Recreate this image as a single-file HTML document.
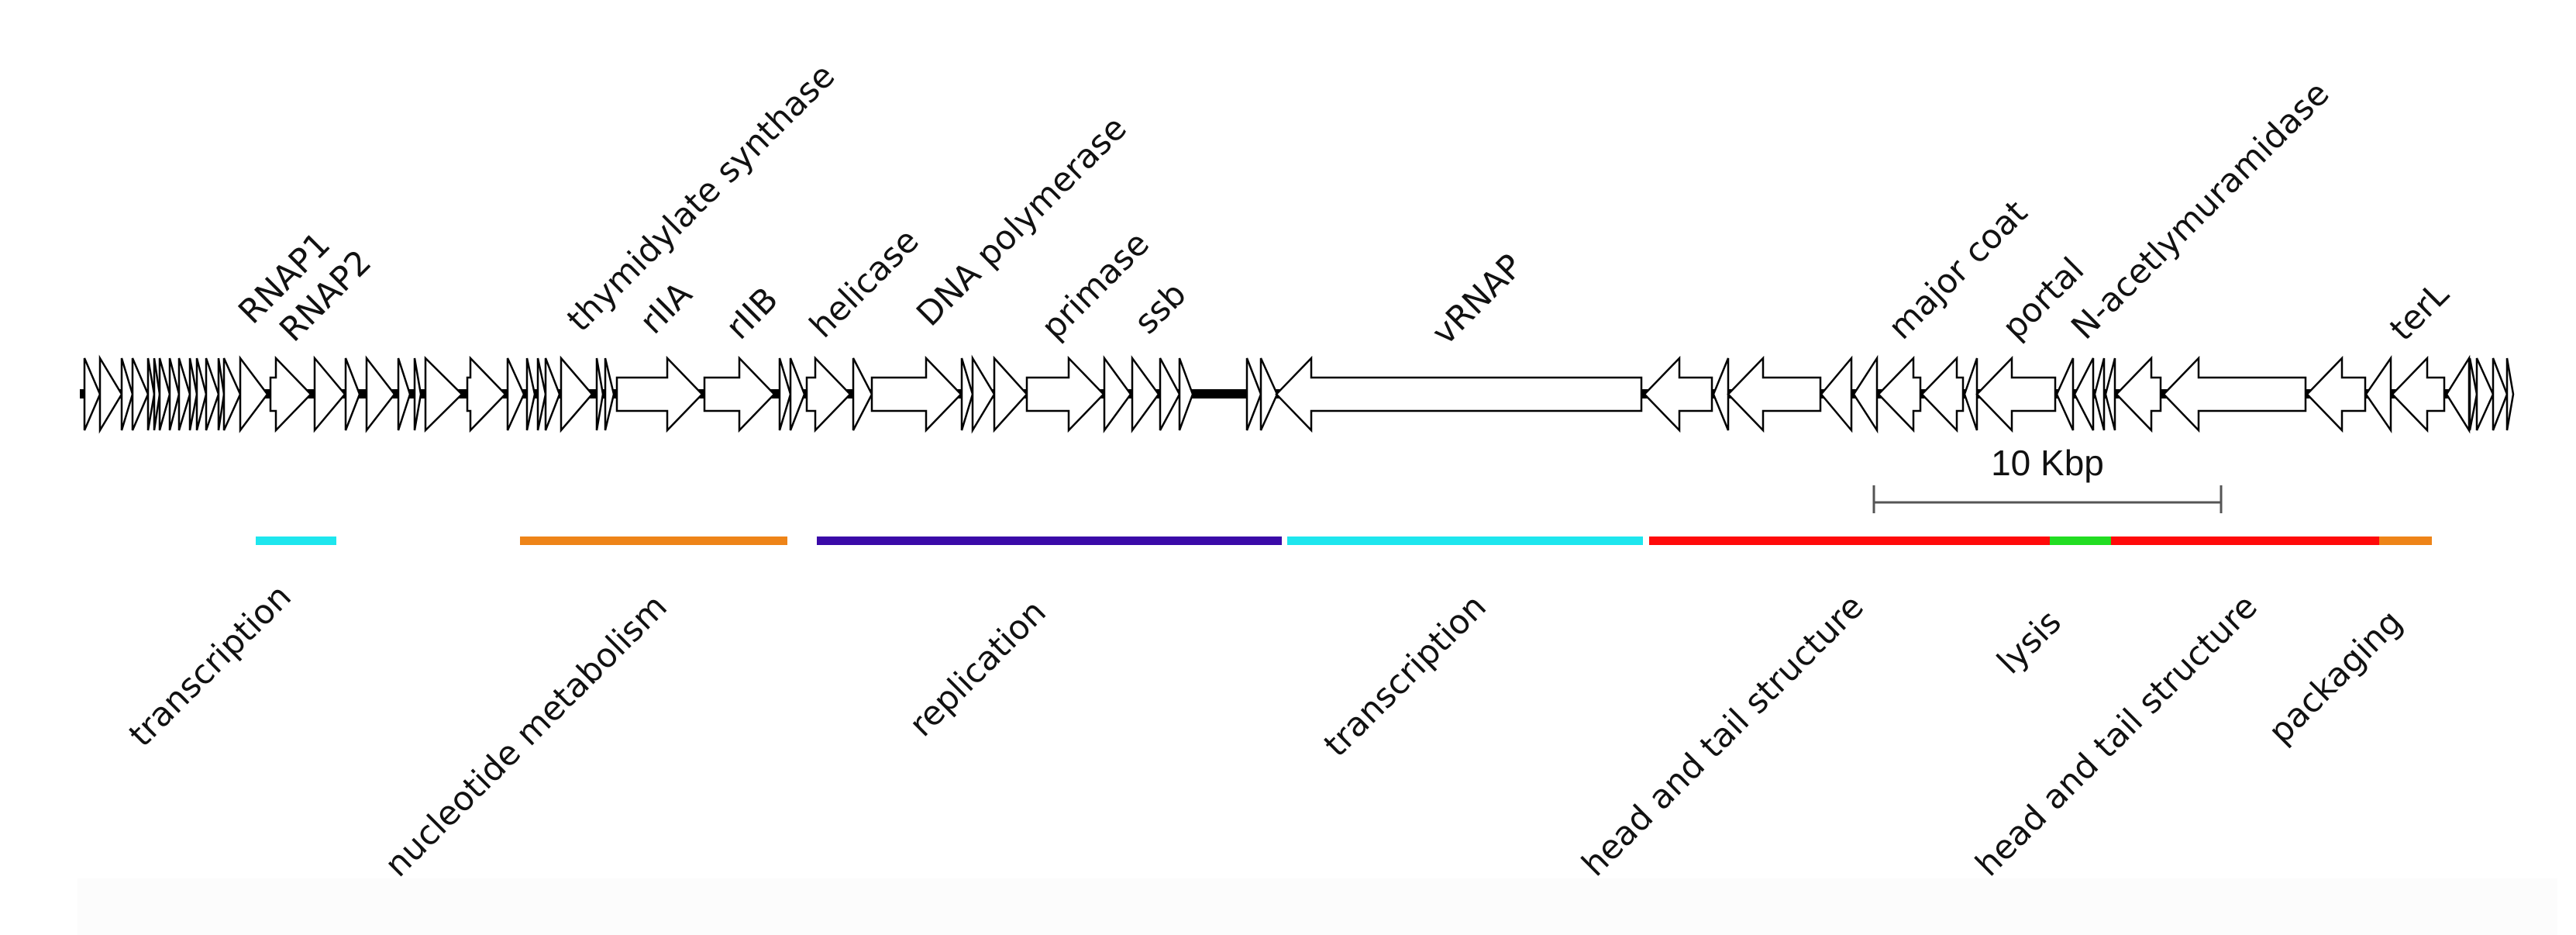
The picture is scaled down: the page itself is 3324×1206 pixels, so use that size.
<!DOCTYPE html>
<html><head><meta charset="utf-8"><style>
html,body{margin:0;padding:0;background:#fff;width:3324px;height:1206px;overflow:hidden}
svg{display:block}
text{font-family:"DejaVu Sans","Liberation Sans",sans-serif;font-size:43px;fill:#111}
</style></head><body>
<svg id="s" width="3324" height="1206" viewBox="0 0 3324 1206" xmlns="http://www.w3.org/2000/svg">
<rect x="0" y="0" width="3324" height="1206" fill="#fff"/>
<rect x="100" y="1133" width="3200" height="73" fill="#fcfcfc"/>
<rect x="103" y="502" width="3140" height="12" fill="#000"/>
<g id="genes" fill="#fff" stroke="#000" stroke-width="2.5" stroke-linejoin="miter"></g>
<g stroke="#555" stroke-width="3">
<line x1="2418" y1="648" x2="2866" y2="648"/>
<line x1="2418" y1="626" x2="2418" y2="662"/>
<line x1="2866" y1="626" x2="2866" y2="662"/>
</g>
<text x="2642" y="613" text-anchor="middle" style="font-family:'Liberation Sans',sans-serif;font-size:46px;fill:#111">10 Kbp</text>
<g>
<rect x="330" y="692" width="104" height="11" fill="#1ee6ee"/>
<rect x="671" y="692" width="345" height="11" fill="#ee8418"/>
<rect x="1054" y="692" width="600" height="11" fill="#3a0aa8"/>
<rect x="1661" y="692" width="459" height="11" fill="#1ee6ee"/>
<rect x="2128" y="692" width="517" height="11" fill="#ff0a0a"/>
<rect x="2645" y="692" width="79" height="11" fill="#22dd22"/>
<rect x="2724" y="692" width="346" height="11" fill="#ff0a0a"/>
<rect x="3070" y="692" width="68" height="11" fill="#ee8418"/>
</g>
<g>
<text transform="translate(326,420) rotate(-45)">RNAP1</text>
<text transform="translate(379,443) rotate(-45)">RNAP2</text>
<text transform="translate(750,430) rotate(-45)">thymidylate synthase</text>
<text transform="translate(844,433) rotate(-45)">rIIA</text>
<text transform="translate(955,440) rotate(-45)">rIIB</text>
<text transform="translate(1063,438) rotate(-45)">helicase</text>
<text transform="translate(1201,423) rotate(-45)">DNA polymerase</text>
<text transform="translate(1362,440) rotate(-45)">primase</text>
<text transform="translate(1482,433) rotate(-45)">ssb</text>
<text transform="translate(1866,447) rotate(-45)">vRNAP</text>
<text transform="translate(2455,440) rotate(-45)">major coat</text>
<text transform="translate(2602,440) rotate(-45)">portal</text>
<text transform="translate(2691,440) rotate(-45)">N-acetlymuramidase</text>
<text transform="translate(3102,442) rotate(-45)">terL</text>
</g>
<g text-anchor="end">
<text transform="translate(378,772) rotate(-45)">transcription</text>
<text transform="translate(863,785) rotate(-45)">nucleotide metabolism</text>
<text transform="translate(1352,792) rotate(-45)">replication</text>
<text transform="translate(1920,785) rotate(-45)">transcription</text>
<text transform="translate(2407,785) rotate(-45)">head and tail structure</text>
<text transform="translate(2662,805) rotate(-45)">lysis</text>
<text transform="translate(2915,785) rotate(-45)">head and tail structure</text>
<text transform="translate(3102,805) rotate(-45)">packaging</text>
</g>
</svg>
<script>
(function(){
var g=document.getElementById('genes');
var T=462,B=555,BT=487,BB=530,C=508.5,H=45;
var pts=[109,129,157,171,191,199,206,219,231,245,254,266,282,289,310,345];
var fw=[];
for(var i=0;i<pts.length-1;i++)fw.push([pts[i],pts[i+1]]);
fw=fw.concat([[349,401],[406,445],[446,464],[473,509],[514,529],[535,543],[549,596],[603,652],[655,676],[680,690],[694,704],[704,722],[724,764],[770,778],[781,792],[796,906],[909,999],[1006,1020],[1020,1038],[1041,1097],[1101,1125],[1125,1240],[1241,1255],[1255,1283],[1283,1325],[1325,1424],[1425,1459],[1461,1495],[1497,1522],[1522,1539],[1609,1627],[1627,1648],[3187,3196],[3196,3217],[3217,3235],[3235,3243]]);
var rv=[[1647,2118],[2122,2209],[2211,2230],[2230,2349],[2350,2389],[2392,2422],[2424,2478],[2480,2533],[2535,2551],[2551,2652],[2654,2675],[2677,2701],[2703,2715],[2717,2729],[2731,2788],[2792,2975],[2977,3052],[3053,3085],[3087,3154],[3157,3186]];
function poly(p){var e=document.createElementNS('http://www.w3.org/2000/svg','polygon');e.setAttribute('points',p.map(function(q){return q[0]+','+q[1]}).join(' '));g.appendChild(e);}
fw.forEach(function(a){var s=a[0],e=a[1];
 if(e-s<=H+2){poly([[s,T],[e,C],[s,B]]);}
 else{var h=e-H;poly([[s,BT],[h,BT],[h,T],[e,C],[h,B],[h,BB],[s,BB]]);}
});
rv.forEach(function(a){var s=a[0],e=a[1];
 if(e-s<=H+2){poly([[e,T],[s,C],[e,B]]);}
 else{var h=s+H;poly([[e,BT],[h,BT],[h,T],[s,C],[h,B],[h,BB],[e,BB]]);}
});
})();
</script>
</body></html>
